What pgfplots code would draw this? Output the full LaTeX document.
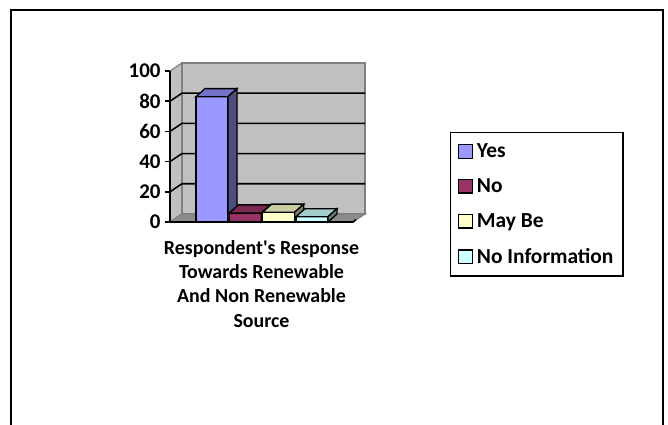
\documentclass[border=0pt]{standalone}
\usepackage{pgfplots}
\pgfplotsset{compat=1.18}
\usepackage{fontspec}
\setmainfont{Carlito}
% straight apostrophe, bypassing the TeX ligature mapping
\newcommand{\sq}{\XeTeXglyph\XeTeXcharglyph"27\relax}

\definecolor{wallgray}{HTML}{C0C0C0}
\definecolor{walledge}{HTML}{808080}
\definecolor{floorgray}{HTML}{8C8C8C}
% Front, top and side shades of the four columns
\definecolor{yesF}{HTML}{9999FF}\definecolor{yesT}{HTML}{7373CC}\definecolor{yesS}{HTML}{4D4D80}
\definecolor{noF}{HTML}{993366}\definecolor{noT}{HTML}{7A2952}\definecolor{noS}{HTML}{4D1A33}
\definecolor{mayF}{HTML}{FFFFCC}\definecolor{mayT}{HTML}{CCCCA3}\definecolor{mayS}{HTML}{808066}
\definecolor{niF}{HTML}{CCFFFF}\definecolor{niT}{HTML}{A3CCCC}\definecolor{niS}{HTML}{668080}

\begin{document}
\begin{tikzpicture}[x=1bp,y=1bp]
\begin{axis}[
  at={(0,0)}, anchor=south west,
  scale only axis, width=183bp, height=151bp,
  xmin=0, xmax=183, ymin=0, ymax=100,
  clip=false,
  axis line style={draw=none},
  xtick=\empty,
  ytick={0,20,40,60,80,100},
  ytick pos=left, tick align=outside,
  major tick length=5bp,
  every tick/.style={black, line width=1.6bp},
  /pgf/number format/assume math mode=true,
  yticklabel style={font=\fontsize{21}{24}\selectfont\bfseries, xshift=-1bp},
  xlabel={Respondent\sq s Response\\Towards Renewable\\And Non Renewable\\Source},
  xlabel style={font=\fontsize{20}{24.5}\selectfont\bfseries, align=center,
    at={(axis description cs:0.5,-0.097)}, anchor=north},
  legend style={at={(rel axis cs:1.530,0.595)}, anchor=north west,
    draw=black, line width=1.3bp, font=\fontsize{21.5}{24}\selectfont\bfseries,
    row sep=15.5bp, inner xsep=7.5bp, inner ysep=9bp, cells={anchor=west}},
  legend cell align=left,
  legend image code/.code={\draw[#1, draw=black, line width=1.3bp] (0bp,-6.7bp) rectangle (13.4bp,6.7bp);
    \path (15.5bp,0bp);},
]
% walls and floor
\addplot[fill=wallgray, draw=walledge, line width=1.2bp, forget plot]
  coordinates {(0,0) (12,5.33) (12,105.33) (0,100)} -- cycle;
\addplot[fill=wallgray, draw=walledge, line width=1.2bp, forget plot]
  coordinates {(12,5.33) (195,5.33) (195,105.33) (12,105.33)} -- cycle;
\addplot[fill=floorgray, draw=walledge, line width=1.2bp, forget plot]
  coordinates {(0,0) (183,0) (195,5.33) (12,5.33)} -- cycle;
% gridlines
\addplot[black, line width=1.6bp, forget plot] coordinates {(0,20) (12,25.33) (195,25.33)};
\addplot[black, line width=1.6bp, forget plot] coordinates {(0,40) (12,45.33) (195,45.33)};
\addplot[black, line width=1.6bp, forget plot] coordinates {(0,60) (12,65.33) (195,65.33)};
\addplot[black, line width=1.6bp, forget plot] coordinates {(0,80) (12,85.33) (195,85.33)};
% axis lines
\addplot[black, line width=1.6bp, forget plot] coordinates {(0,100) (0,0) (183,0) (186,1.67)};

% Yes
\addplot[ybar, bar width=32, bar shift=0pt, fill=yesF, draw=black, line width=1.3bp] coordinates {(42,83)};
\addplot[fill=yesT, draw=black, line width=1.3bp, forget plot] coordinates {(26,83) (58,83) (67,88.33) (35,88.33)} -- cycle;
\addplot[fill=yesS, draw=black, line width=1.3bp, forget plot] coordinates {(58,0) (67,5.33) (67,88.33) (58,83)} -- cycle;
% No
\addplot[ybar, bar width=32, bar shift=0pt, fill=noF, draw=black, line width=1.3bp] coordinates {(75.3,6)};
\addplot[fill=noT, draw=black, line width=1.3bp, forget plot] coordinates {(59.3,6) (91.3,6) (100.3,11.33) (68.3,11.33)} -- cycle;
\addplot[fill=noS, draw=black, line width=1.3bp, forget plot] coordinates {(91.3,0) (100.3,5.33) (100.3,11.33) (91.3,6)} -- cycle;
% May Be
\addplot[ybar, bar width=32, bar shift=0pt, fill=mayF, draw=black, line width=1.3bp] coordinates {(108.7,6.5)};
\addplot[fill=mayT, draw=black, line width=1.3bp, forget plot] coordinates {(92.7,6.5) (124.7,6.5) (133.7,11.83) (101.7,11.83)} -- cycle;
\addplot[fill=mayS, draw=black, line width=1.3bp, forget plot] coordinates {(124.7,0) (133.7,5.33) (133.7,11.83) (124.7,6.5)} -- cycle;
% No Information
\addplot[ybar, bar width=32, bar shift=0pt, fill=niF, draw=black, line width=1.3bp] coordinates {(142,3.5)};
\addplot[fill=niT, draw=black, line width=1.3bp, forget plot] coordinates {(126,3.5) (158,3.5) (167,8.83) (135,8.83)} -- cycle;
\addplot[fill=niS, draw=black, line width=1.3bp, forget plot] coordinates {(158,0) (167,5.33) (167,8.83) (158,3.5)} -- cycle;

\legend{Yes, No, May Be, No Information}
\end{axis}
% chart frame
\draw[black, line width=2bp] (-159,-215) -- (-159,212) -- (493,212) -- (493,-215);
\pgfresetboundingbox
\useasboundingbox (-170,-202) rectangle (498,222);
\end{tikzpicture}
\end{document}
